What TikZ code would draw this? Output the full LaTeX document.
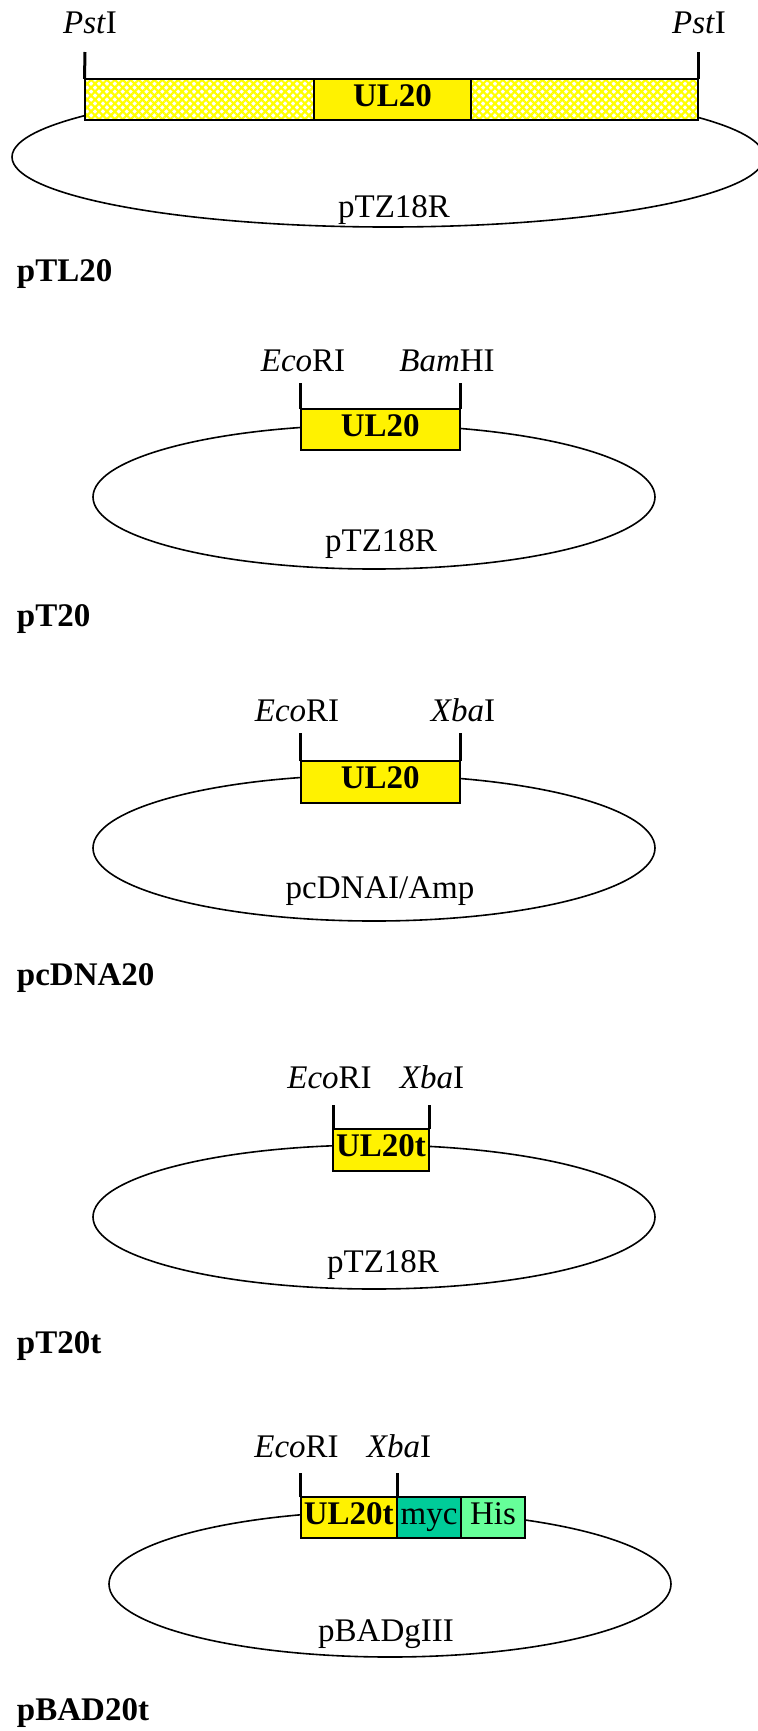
\documentclass[tikz,border=0pt]{standalone}
\usepackage{fontspec}
\setmainfont{Liberation Serif}
\usetikzlibrary{patterns.meta}
\definecolor{mycgreen}{HTML}{00CC99}
\definecolor{hisgreen}{HTML}{66FF99}
\begin{document}
\begin{tikzpicture}[x=0.5pt,y=-0.5pt,
  every node/.style={inner sep=0pt,outer sep=0pt},
  txt/.style={font=\fontsize{16.5}{19}\selectfont,anchor=base},
  site/.style={txt},
  plasname/.style={anchor=base west,font=\fontsize{16.5}{19}\selectfont\bfseries},
  vec/.style={line width=0.8pt},
  boxed/.style={draw,line width=1pt,minimum height=20.5pt,text height=0.66em,text depth=0pt},
  seg/.style={boxed,font=\fontsize{16.5}{19}\selectfont\bfseries},
  tag/.style={boxed,font=\fontsize{16.5}{19}\selectfont},
  hatched/.style={draw,line width=1pt,minimum height=20.5pt,
    preaction={fill=white},
    pattern={Hatch[angle=45,distance=2.8pt,line width=1.1pt]},pattern color=yellow},
  tick/.style={line width=1.5pt}]
\useasboundingbox (0,0) rectangle (757,1731);

% ---- pTL20 ----
\draw[vec] (388,157) ellipse [x radius=376, y radius=70];
\node[hatched,minimum width=114.75pt] (h1) at (199.25,99.5) {};
\node[hatched,minimum width=113.5pt] (h2) at (584.5,99.5) {};
\node[seg,fill=yellow,minimum width=78.5pt] (b1) at (392.5,99.5) {UL20};
\coordinate (t1a) at (85,52);
\coordinate (t1b) at (698,52);
\draw[tick] (h1.north west) -- (t1a);
\draw[tick] (h2.north east) -- (t1b);
\node[site] (s1a) at (90,33) {\textit{Pst}I};
\node[site] (s1b) at (699,33) {\textit{Pst}I};
\node[txt] (v1) at (394,217) {pTZ18R};
\node[plasname] (n1) at (17,281) {pTL20};

% ---- pT20 ----
\draw[vec] (374,497) ellipse [x radius=281, y radius=72];
\node[seg,fill=yellow,minimum width=79.75pt] (b2) at (380.25,429.5) {UL20};
\draw[tick] (b2.north west) -- ++(0,-26) coordinate (t2a);
\draw[tick] (b2.north east) -- ++(0,-26) coordinate (t2b);
\node[site] (s2a) at (303,371) {\textit{Eco}RI};
\node[site] (s2b) at (447,371) {\textit{Bam}HI};
\node[txt] (v2) at (381,551) {pTZ18R};
\node[plasname] (n2) at (17,626) {pT20};

% ---- pcDNA20 ----
\draw[vec] (374,848) ellipse [x radius=281, y radius=73];
\node[seg,fill=yellow,minimum width=79.75pt,minimum height=21pt] (b3) at (380.25,782) {UL20};
\draw[tick] (b3.north west) -- ++(0,-28) coordinate (t3a);
\draw[tick] (b3.north east) -- ++(0,-28) coordinate (t3b);
\node[site] (s3a) at (297,721) {\textit{Eco}RI};
\node[site] (s3b) at (463,721) {\textit{Xba}I};
\node[txt] (v3) at (380,898) {pcDNAI/Amp};
\node[plasname] (n3) at (17,985) {pcDNA20};

% ---- pT20t ----
\draw[vec] (374,1217) ellipse [x radius=281, y radius=72];
\node[seg,fill=yellow,minimum width=48pt,minimum height=21pt] (b4) at (381,1150) {UL20t};
\draw[tick] (b4.north west) -- ++(0,-24) coordinate (t4a);
\draw[tick] (b4.north east) -- ++(0,-24) coordinate (t4b);
\node[site] (s4a) at (329.5,1088) {\textit{Eco}RI};
\node[site] (s4b) at (432,1088) {\textit{Xba}I};
\node[txt] (v4) at (383,1272) {pTZ18R};
\node[plasname] (n4) at (17,1353) {pT20t};

% ---- pBAD20t ----
\draw[vec] (390,1584) ellipse [x radius=281, y radius=73];
\node[seg,fill=yellow,minimum width=48.25pt] (b5) at (348.75,1517.5) {UL20t};
\node[tag,fill=mycgreen,minimum width=32pt,anchor=west] (m5) at (b5.east) {myc};
\node[tag,fill=hisgreen,minimum width=32pt,anchor=west] (h5) at (m5.east) {His};
\draw[tick] (b5.north west) -- ++(0,-24) coordinate (t5a);
\draw[tick] (b5.north east) -- ++(0,-24) coordinate (t5b);
\node[site] (s5a) at (296.5,1457) {\textit{Eco}RI};
\node[site] (s5b) at (399,1457) {\textit{Xba}I};
\node[txt] (v5) at (386,1641) {pBADgIII};
\node[plasname] (n5) at (17,1720) {pBAD20t};
\end{tikzpicture}
\end{document}
